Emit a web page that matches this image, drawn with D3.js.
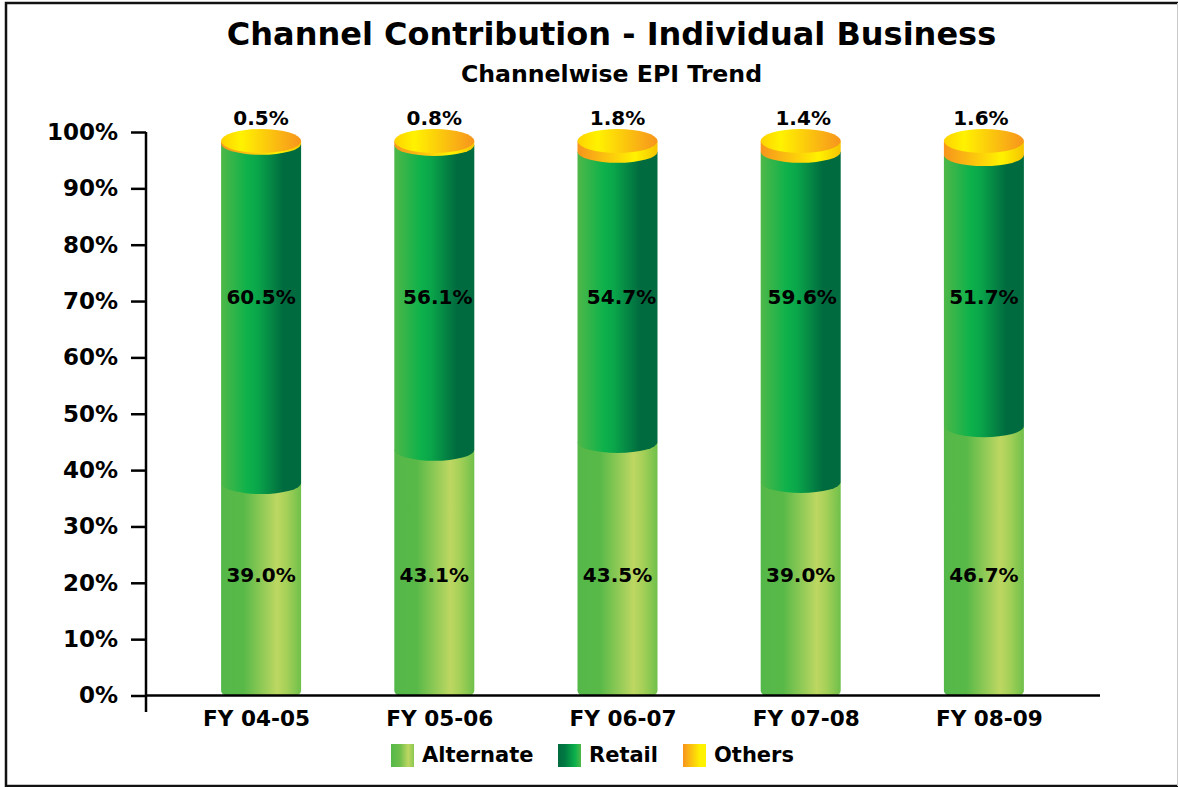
<!DOCTYPE html>
<html>
<head>
<meta charset="utf-8">
<script src="https://cdn.jsdelivr.net/npm/d3@7"></script>
<style>
	html, body { margin: 0; padding: 0; background: #fff; }
	svg { display: block; }
	text { font-family: "DejaVu Sans", sans-serif; font-weight: bold; fill: #000; }
</style>
</head>
<body>
<script>
// Chart values. The printed labels and the drawn heights disagree a little in the
// source picture, so both are kept: labels as printed, heights as read off the axis.
var categories = ["FY 04-05", "FY 05-06", "FY 06-07", "FY 07-08", "FY 08-09"];
var alternateLabels = [39.0, 43.1, 43.5, 39.0, 46.7];
var retailLabels = [60.5, 56.1, 54.7, 59.6, 51.7];
var othersLabels = [0.5, 0.8, 1.8, 1.4, 1.6];
var alternateHeights = [37.7, 43.6, 45.0, 37.9, 47.8];
var retailHeights = [60.2, 54.1, 51.5, 58.6, 48.1];
var othersHeights = [0.5, 0.7, 1.9, 1.9, 2.5];
var yTicks = [0, 10, 20, 30, 40, 50, 60, 70, 80, 90, 100];
var seriesNames = ["Alternate", "Retail", "Others"];

var width = 1178,
	height = 787;

var baseValue = 0.8,	// cylinder side ends a little above the axis line
	barWidth = 80,
	ry = 11;

var x = d3.scaleBand().domain(categories).range([165, 1081]);
var y = d3.scaleLinear().domain([0, 100]).range([695.5, 132]);

// the first cylinder sits right of its label, the others left of it
function barCenter(c) {
	return x(c) + x.bandwidth() / 2 + (c === categories[0] ? 4.5 : -5.5);
}

var svg = d3.select("body").append("svg")
	.attr("width", width)
	.attr("height", height);

var defs = svg.append("defs");

function addGradient(id, stops) {
	var g = defs.append("linearGradient").attr("id", id);
	stops.forEach(function(s) {
		g.append("stop").attr("offset", s[0]).attr("stop-color", s[1]);
	});
}

addGradient("alternate", [[0, "#54b848"], [0.28, "#58b948"], [0.7, "#bdd762"], [0.82, "#a5d058"], [1, "#6fc04a"]]);
addGradient("retail", [[0, "#4fb848"], [0.33, "#0db14b"], [0.45, "#0aa64a"], [0.78, "#006b3f"], [1, "#006b3f"]]);
addGradient("others", [[0, "#f7941d"], [0.72, "#fff200"], [1, "#f5c400"]]);
addGradient("othersTop", [[0, "#ffd200"], [0.25, "#fff200"], [1, "#f7941d"]]);
addGradient("alternateKey", [[0, "#54b848"], [0.4, "#70bf4c"], [0.75, "#bdd762"], [1, "#8cc850"]]);
addGradient("retailKey", [[0, "#006b3f"], [0.3, "#007a42"], [0.75, "#0db14b"], [1, "#4fb848"]]);
addGradient("othersKey", [[0, "#f7941d"], [0.75, "#fff200"], [1, "#fff200"]]);

defs.append("clipPath").attr("id", "aboveAxis")
	.append("rect")
	.attr("x", 0).attr("y", 0)
	.attr("width", width).attr("height", y(0));

// outer frame, the right edge is only a thin grey line in the original
svg.append("rect")
	.attr("x", 6).attr("y", 3)
	.attr("width", width + 20).attr("height", 783)
	.attr("fill", "none")
	.attr("stroke", "#111")
	.attr("stroke-width", 2.5);
svg.append("line")
	.attr("x1", 1177.5).attr("x2", 1177.5)
	.attr("y1", 3).attr("y2", 786)
	.attr("stroke", "#c8c8c8");

// Titles
svg.append("text")
	.attr("x", 611.5).attr("y", 45)
	.attr("text-anchor", "middle")
	.style("font-size", "32px")
	.text("Channel Contribution - Individual Business");
svg.append("text")
	.attr("x", 611.5).attr("y", 81.5)
	.attr("text-anchor", "middle")
	.style("font-size", "23.6px")
	.text("Channelwise EPI Trend");

// Cylinder side: flat top (hidden by the segment above), curved bottom
function sidePath(c, from, to) {
	var cx = barCenter(c),
		l = cx - barWidth / 2,
		r = cx + barWidth / 2;
	return "M" + l + "," + y(to) +
		"L" + l + "," + y(from) +
		"A" + (barWidth / 2) + "," + ry + " 0 0 0 " + r + "," + y(from) +
		"L" + r + "," + y(to) + "Z";
}

var bars = svg.append("g").attr("clip-path", "url(#aboveAxis)");

categories.forEach(function(c, i) {
	var altTop = alternateHeights[i];
	var retTop = altTop + retailHeights[i];
	var othTop = retTop + othersHeights[i];

	bars.append("path").attr("d", sidePath(c, baseValue, altTop)).attr("fill", "url(#alternate)");
	bars.append("path").attr("d", sidePath(c, altTop, retTop)).attr("fill", "url(#retail)");
	bars.append("path").attr("d", sidePath(c, retTop, othTop)).attr("fill", "url(#others)");
	bars.append("ellipse")
		.attr("cx", barCenter(c))
		.attr("cy", y(othTop))
		.attr("rx", barWidth / 2)
		.attr("ry", ry + 1)
		.attr("fill", "url(#othersTop)");
});

// Value labels sit in fixed rows, not in the middle of their segments
var retailLabelDx = [0, 3.5, 4, 1.5, 0];
var othersLabelDx = [0, 0, 0, 2.5, -3];

function addLabels(values, row, dx) {
	svg.append("g").selectAll("text")
		.data(categories)
		.enter()
		.append("text")
			.attr("x", function(c, i) { return barCenter(c) + (dx ? dx[i] : 0); })
			.attr("y", y(row))
			.attr("text-anchor", "middle")
			.style("font-size", "20px")
			.text(function(c, i) { return values[i].toFixed(1) + "%"; });
}

addLabels(alternateLabels, 20.2, null);
addLabels(retailLabels, 69.4, retailLabelDx);
addLabels(othersLabels, 101.2, othersLabelDx);

// Axes
var yAxis = d3.axisLeft(y)
	.tickValues(yTicks)
	.tickFormat(function(d) { return d + "%"; })
	.tickSize(15)
	.tickPadding(13)
	.tickSizeOuter(0);

var yg = svg.append("g")
	.attr("transform", "translate(146,0)")
	.call(yAxis);
yg.select(".domain")
	.attr("d", "M0," + y(100) + "V712")
	.attr("stroke", "#000")
	.attr("stroke-width", 2.5);
yg.selectAll(".tick line").attr("stroke", "#000").attr("stroke-width", 2.5);
yg.selectAll(".tick text").style("font-size", "23px");
yg.attr("font-family", null).attr("font-size", null);

var xAxis = d3.axisBottom(x).tickSize(0).tickPadding(15);
var xg = svg.append("g")
	.attr("transform", "translate(0," + y(0) + ")")
	.call(xAxis);
xg.select(".domain")
	.attr("d", "M146,0H1100")
	.attr("stroke", "#000")
	.attr("stroke-width", 2.5);
xg.selectAll(".tick text").style("font-size", "21.6px");
xg.attr("font-family", null).attr("font-size", null);

// Legend
var legendX = d3.scaleOrdinal().domain(seriesNames).range([391, 558, 683]);
var legendKeys = d3.scaleOrdinal().domain(seriesNames).range(["alternateKey", "retailKey", "othersKey"]);

var legend = svg.append("g").selectAll("g")
	.data(seriesNames)
	.enter()
	.append("g")
		.attr("transform", function(d) { return "translate(" + legendX(d) + ",744)"; });
legend.append("rect")
	.attr("width", 23)
	.attr("height", 23)
	.attr("fill", function(d) { return "url(#" + legendKeys(d) + ")"; });
legend.append("text")
	.attr("x", 31)
	.attr("y", 18)
	.style("font-size", "21px")
	.text(function(d) { return d; });
</script>
</body>
</html>
